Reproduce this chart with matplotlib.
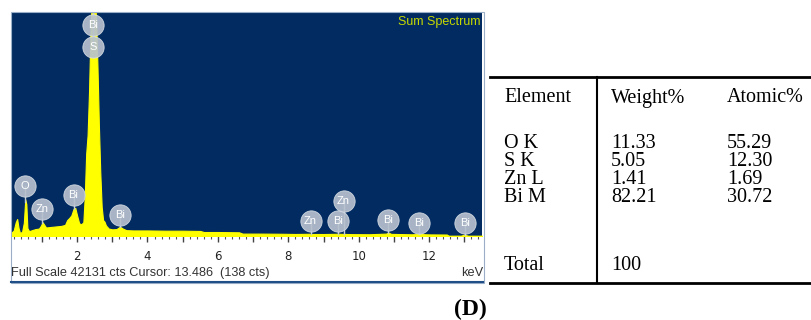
import numpy as np
import matplotlib.pyplot as plt
from matplotlib.lines import Line2D
from matplotlib.patches import Rectangle

# EDS spectrum (keV, counts)
energy_kev = [0.12, 0.20, 0.26, 0.30, 0.34, 0.38, 0.44, 0.49, 0.53, 0.56, 0.59, 0.64,
              0.72, 0.82, 0.92, 0.98, 1.02, 1.06, 1.12, 1.25, 1.40, 1.55, 1.66, 1.72,
              1.78, 1.84, 1.90, 1.95, 2.00, 2.06, 2.12, 2.18, 2.22, 2.26, 2.30, 2.34,
              2.38, 2.42, 2.46, 2.50, 2.54, 2.58, 2.62, 2.66, 2.70, 2.74, 2.78, 2.82,
              2.90, 3.00, 3.12, 3.22, 3.30, 3.40, 3.60, 4.0, 4.5, 5.0, 5.5, 5.6,
              6.0, 6.6, 6.7, 7.2, 7.8, 8.2, 8.6, 8.66, 9.0, 9.42, 9.8, 10.3,
              10.78, 10.84, 10.92, 11.5, 11.72, 12.0, 12.5, 12.55, 12.9, 13.0, 13.1, 13.5]
counts = [560, 1000, 2600, 3200, 1500, 560, 800, 2500, 6900, 6000, 1500, 900,
          1100, 1300, 1400, 2000, 2600, 2200, 1600, 1700, 1800, 1900, 2100, 3000,
          3400, 3900, 5100, 5300, 3900, 2400, 2200, 2600, 7500, 15500, 19000, 27000,
          38000, 45000, 47000, 46000, 41000, 32000, 21000, 12000, 5500, 3000, 2700, 2000,
          1400, 1250, 1300, 1750, 1400, 1100, 1050, 1050, 1000, 1000, 950, 750,
          750, 700, 450, 450, 420, 380, 420, 380, 370, 420, 350, 330,
          450, 650, 400, 320, 380, 300, 280, 50, 50, 250, 50, 50]
full_scale = 42131

# peak labels
label_names = ["Bi", "S", "O", "Zn", "Bi", "Bi", "Zn", "Bi", "Zn", "Bi", "Bi", "Bi"]
label_kev = [2.45, 2.45, 0.525, 1.01, 1.90, 3.23, 8.63, 9.42, 9.57, 10.84, 11.71, 13.02]
label_cts = [39700, 35600, 9400, 5080, 7700, 3950, 2820, 2820, 6580, 3000, 2500, 2450]

tick_pos = list(range(1, 14))
tick_labels = ["", "2", "", "4", "", "6", "", "8", "", "10", "", "12", ""]

# quantification table
elements = ["O K", "S K", "Zn L", "Bi M"]
weight_pct = ["11.33", "5.05", "1.41", "82.21"]
atomic_pct = ["55.29", "12.30", "1.69", "30.72"]
total_weight = "100"

W, H = 811, 320
fig = plt.figure(figsize=(W / 100, H / 100), dpi=100)


def fx(x):
    return x / W


def fy(y):
    return 1 - y / H


ax = fig.add_axes([fx(11), fy(236), (482 - 11) / W, (236 - 12.5) / H])
ax.set_facecolor('#022c61')
ax.fill_between(energy_kev, counts, 0, color='#ffff00', lw=0.8, zorder=2)
ax.set_xlim(0.125, 13.5)
ax.set_ylim(0, full_scale)
ax.set_yticks([])
ax.set_xticks(tick_pos)
ax.set_xticklabels(tick_labels)
ax.set_xticks(np.arange(0.2, 13.5, 0.2), minor=True)
ax.tick_params(axis='x', which='major', direction='out', length=4, width=1,
               color='#444444', labelsize=8.5, labelcolor='#222222', pad=6)
ax.tick_params(axis='x', which='minor', direction='out', length=2, width=0.8,
               color='#555555')
for s in ax.spines.values():
    s.set_visible(False)

for name, e, c in zip(label_names, label_kev, label_cts):
    base = np.interp(e, energy_kev, counts)
    ax.plot([e, e], [base, c], color='#c4ccd6', lw=1, zorder=3, clip_on=True)
for name, e, c in zip(label_names, label_kev, label_cts):
    ax.scatter([e], [c], s=235, color='#b7c1ce', alpha=0.92, edgecolors='#d8dee6',
               linewidths=0.6, zorder=4)
    ax.text(e, c, name, color='white', fontsize=8, ha='center', va='center',
            family='Liberation Sans', zorder=5)

ax.text(0.997, 0.985, "Sum Spectrum", transform=ax.transAxes, ha='right', va='top',
        color='#c6d800', fontsize=9, family='Liberation Sans')

# panel frame and bottom strip
fig.patches.append(Rectangle((fx(10.5), fy(282.5)), (483.5 - 10.5) / W, (282.5 - 12) / H,
                             transform=fig.transFigure, fill=False,
                             edgecolor='#9bb0c8', lw=0.8))
fig.lines.append(Line2D([fx(10.5), fx(483.5)], [fy(282), fy(282)],
                        transform=fig.transFigure, color='#1f4f86', lw=1.5))
fig.text(fx(11), fy(273), "Full Scale 42131 cts Cursor: 13.486  (138 cts)",
         fontsize=9.2, color='#333333', va='center', family='Liberation Sans')
fig.text(fx(483), fy(273), "keV", fontsize=9.2, color='#333333', va='center',
         ha='right', family='Liberation Sans')

# table
serif = 'Liberation Serif'
fig.lines.append(Line2D([fx(490), fx(811)], [fy(77), fy(77)],
                        transform=fig.transFigure, color='black', lw=2))
fig.lines.append(Line2D([fx(490), fx(811)], [fy(283), fy(283)],
                        transform=fig.transFigure, color='black', lw=2))
fig.lines.append(Line2D([fx(597), fx(597)], [fy(77), fy(283)],
                        transform=fig.transFigure, color='black', lw=1.5))

col_x = [504, 611, 727]
tsize = 14.5
fig.text(fx(col_x[0]), fy(98), "Element", fontsize=tsize, family=serif, va='center')
fig.text(fx(col_x[1]), fy(98), "Weight%", fontsize=tsize, family=serif, va='center')
fig.text(fx(col_x[2]), fy(98), "Atomic%", fontsize=tsize, family=serif, va='center')
row_y = [144, 162, 180, 198]
for y, el, wt, at in zip(row_y, elements, weight_pct, atomic_pct):
    fig.text(fx(col_x[0]), fy(y), el, fontsize=tsize, family=serif, va='center')
    fig.text(fx(col_x[1]), fy(y), wt, fontsize=tsize, family=serif, va='center')
    fig.text(fx(col_x[2]), fy(y), at, fontsize=tsize, family=serif, va='center')
fig.text(fx(col_x[0]), fy(266), "Total", fontsize=tsize, family=serif, va='center')
fig.text(fx(col_x[1]), fy(266), total_weight, fontsize=tsize, family=serif, va='center')

fig.text(fx(470), fy(309), "(D)", fontsize=17, family=serif, weight='bold',
         ha='center', va='center')

fig.savefig('out.png', dpi=100)
